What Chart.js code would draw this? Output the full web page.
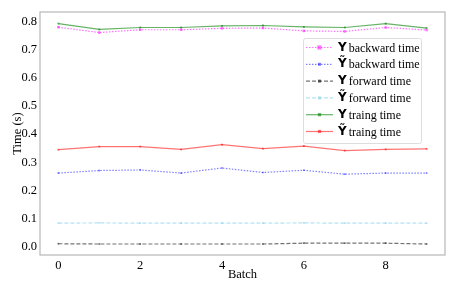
<!DOCTYPE html>
<html>
<head>
<meta charset="utf-8">
<script src="https://cdn.jsdelivr.net/npm/chart.js@4/dist/chart.umd.min.js"></script>
<style>
  html, body { margin: 0; padding: 0; background: #fff; }
  #wrap { width: 457px; height: 292px; }
</style>
</head>
<body>
<div id="wrap"><canvas id="grafico"></canvas></div>
<script>
// dados
const batches = [0, 1, 2, 3, 4, 5, 6, 7, 8, 9];
const xTicks = [0, 2, 4, 6, 8];
const yTicks = [0.0, 0.1, 0.2, 0.3, 0.4, 0.5, 0.6, 0.7, 0.8];

const yBackward  = [0.780, 0.761, 0.771, 0.771, 0.776, 0.777, 0.767, 0.765, 0.779, 0.770];
const ytBackward = [0.262, 0.271, 0.273, 0.262, 0.280, 0.264, 0.272, 0.258, 0.262, 0.262];
const yForward   = [0.011, 0.010, 0.010, 0.010, 0.010, 0.010, 0.013, 0.013, 0.013, 0.010];
const ytForward  = [0.084, 0.085, 0.084, 0.084, 0.084, 0.084, 0.085, 0.084, 0.084, 0.084];
const yTraining  = [0.793, 0.772, 0.779, 0.779, 0.785, 0.786, 0.781, 0.779, 0.793, 0.777];
const ytTraining = [0.345, 0.356, 0.356, 0.346, 0.363, 0.349, 0.358, 0.342, 0.346, 0.348];

const seriesNames = ['backward time', 'backward time', 'forward time', 'forward time', 'traing time', 'traing time'];
const seriesMarks = ['Y', 'Ỹ', 'Y', 'Ỹ', 'Y', 'Ỹ'];

const serif = '"Liberation Serif", "DejaVu Serif", serif';

function pontos(vals) {
    return vals.map((v, i) => ({ x: batches[i], y: v }));
}

function serie(idx, vals, cor, dash, raio) {
    return {
        label: seriesMarks[idx] + ' ' + seriesNames[idx],
        mark: seriesMarks[idx],
        name: seriesNames[idx],
        data: pontos(vals),
        borderColor: cor,
        backgroundColor: cor,
        borderWidth: 1.2,
        borderDash: dash,
        pointStyle: 'rect',
        pointRadius: raio,
        pointBorderWidth: 0,
        tension: 0
    };
}

// moldura em volta da área do gráfico
const molduraPlugin = {
    id: 'moldura',
    afterDatasetsDraw(chart) {
        const { ctx, chartArea: a } = chart;
        ctx.save();
        ctx.strokeStyle = '#b8b8b8';
        ctx.lineWidth = 1.2;
        ctx.strokeRect(a.left, a.top, a.right - a.left, a.bottom - a.top);
        ctx.restore();
    }
};

// legenda desenhada dentro da área do gráfico
const legendaPlugin = {
    id: 'legendaInterna',
    afterDraw(chart) {
        const { ctx } = chart;
        const x0 = 303, y0 = 38, w = 118, h = 105, passo = 16.8;
        ctx.save();
        ctx.fillStyle = 'rgba(255,255,255,0.85)';
        ctx.strokeStyle = '#dddddd';
        ctx.lineWidth = 1;
        ctx.beginPath();
        ctx.roundRect(x0 + 0.5, y0 + 0.5, w, h, 2);
        ctx.fill();
        ctx.stroke();
        chart.data.datasets.forEach((ds, i) => {
            const yy = y0 + 9.5 + i * passo;
            ctx.strokeStyle = ds.borderColor;
            ctx.lineWidth = ds.borderWidth;
            ctx.setLineDash(ds.borderDash || []);
            ctx.beginPath();
            ctx.moveTo(x0 + 3, yy);
            ctx.lineTo(x0 + 30, yy);
            ctx.stroke();
            ctx.setLineDash([]);
            ctx.fillStyle = ds.borderColor;
            const r = ds.pointRadius + 0.3;
            ctx.fillRect(x0 + 16.5 - r, yy - r, 2 * r, 2 * r);
            ctx.fillStyle = '#000';
            ctx.textBaseline = 'middle';
            ctx.font = 'bold 12px "DejaVu Sans", sans-serif';
            ctx.fillText(ds.mark, x0 + 35, yy);
            const mw = ctx.measureText(ds.mark).width;
            ctx.font = '12px ' + serif;
            ctx.fillText(ds.name, x0 + 37 + mw, yy + 1);
        });
        ctx.restore();
    }
};

const ctx = document.getElementById('grafico').getContext('2d');
new Chart(ctx, {
    type: 'line',
    data: {
        datasets: [
            serie(0, yBackward,  'rgba(255,0,255,0.55)',   [1.5, 1.5], 1.8),
            serie(1, ytBackward, 'rgba(0,0,255,0.5)',      [1.5, 1.5], 1.2),
            serie(2, yForward,   'rgba(0,0,0,0.55)',       [4, 2],     1.2),
            serie(3, ytForward,  'rgba(135,206,235,0.6)',  [4, 2],     1.2),
            serie(4, yTraining,  'rgba(0,128,0,0.6)',      [],         1.3),
            serie(5, ytTraining, 'rgba(255,0,0,0.55)',     [],         1.3)
        ]
    },
    options: {
        responsive: true,
        maintainAspectRatio: false,
        animation: false,
        layout: { padding: { top: 12, right: 12, left: 0, bottom: 0 } },
        plugins: {
            legend: { display: false },
            tooltip: { enabled: false }
        },
        scales: {
            x: {
                type: 'linear',
                min: -0.45,
                max: 9.45,
                afterBuildTicks: axis => { axis.ticks = xTicks.map(v => ({ value: v })); },
                afterFit: axis => { axis.height = 37; },
                grid: { display: false, drawTicks: false },
                border: { display: false },
                ticks: { color: '#000', padding: 3, font: { family: serif, size: 12.5 } },
                title: { display: true, text: 'Batch', color: '#000', padding: { top: 0, bottom: 10 }, font: { family: serif, size: 12.5 } }
            },
            y: {
                min: -0.029,
                max: 0.834,
                afterBuildTicks: axis => { axis.ticks = yTicks.map(v => ({ value: v })); },
                afterFit: axis => { axis.width = 40; },
                grid: { display: false, drawTicks: false },
                border: { display: false },
                ticks: {
                    color: '#000', padding: 3,
                    font: { family: serif, size: 12.5 },
                    callback: v => v.toFixed(1)
                },
                title: { display: true, text: 'Time (s)', color: '#000', padding: { top: 10, bottom: 0 }, font: { family: serif, size: 12.5 } }
            }
        }
    },
    plugins: [molduraPlugin, legendaPlugin]
});
</script>
</body>
</html>
